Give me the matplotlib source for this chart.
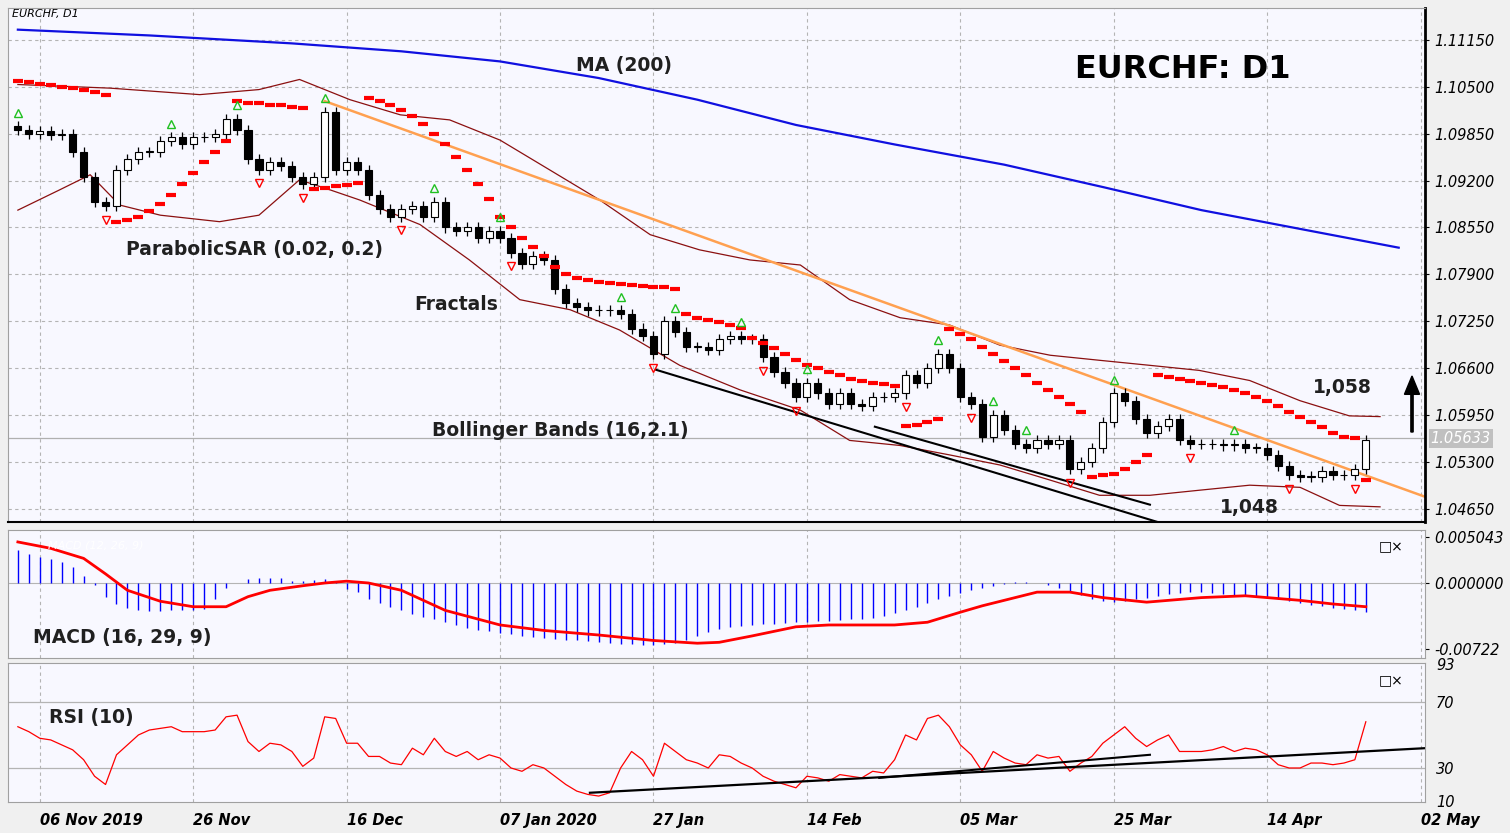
import numpy as np
import matplotlib
matplotlib.use("Agg")
import matplotlib.pyplot as plt

closes = [1.0990,1.0985,1.0988,1.0983,1.0985,1.0960,1.0925,1.0890,1.0885,1.0935,
1.0950,1.0960,1.0960,1.0975,1.0980,1.0970,1.0980,1.0980,1.0985,1.1005,
1.0990,1.0950,1.0935,1.0945,1.0940,1.0925,1.0915,1.0925,1.1015,1.0935,
1.0945,1.0935,1.0900,1.0880,1.0870,1.0880,1.0885,1.0870,1.0890,1.0855,
1.0850,1.0855,1.0840,1.0850,1.0840,1.0820,1.0805,1.0815,1.0810,1.0770,
1.0750,1.0745,1.0740,1.0740,1.0740,1.0735,1.0715,1.0705,1.0680,1.0725,
1.0710,1.0690,1.0690,1.0685,1.0700,1.0705,1.0700,1.0700,1.0675,1.0655,
1.0640,1.0620,1.0640,1.0625,1.0610,1.0625,1.0610,1.0608,1.0620,1.0620,
1.0625,1.0650,1.0640,1.0660,1.0680,1.0660,1.0620,1.0610,1.0565,1.0595,
1.0575,1.0555,1.0550,1.0560,1.0555,1.0560,1.0520,1.0530,1.0550,1.0585,
1.0625,1.0615,1.0590,1.0570,1.0580,1.0590,1.0560,1.0555,1.0555,1.0555,
1.0553,1.0555,1.0550,1.0550,1.0540,1.0525,1.0512,1.0510,1.0510,1.0518,
1.0512,1.0512,1.0520,1.0560]
first_open = 1.0995

sar = [1.1058,1.1056,1.1054,1.1052,1.1050,1.1048,1.1045,1.1042,1.1038,
1.0862,1.0866,1.0870,1.0878,1.0888,1.0900,1.0915,1.0930,1.0945,1.0960,1.0975,
1.1030,1.1028,1.1027,1.1025,1.1024,1.1022,1.1020,
1.0908,1.0910,1.0912,1.0914,1.0916,
1.1035,1.1030,1.1025,1.1018,1.1010,1.0998,1.0985,1.0970,1.0952,1.0935,1.0915,1.0895,1.0870,
1.0855,1.0840,1.0828,1.0815,
1.0800,1.0790,1.0785,1.0782,1.0780,1.0778,1.0776,1.0775,1.0774,1.0773,1.0772,1.0770,
1.0735,1.0730,1.0727,1.0724,1.0720,1.0716,
1.0702,1.0695,1.0688,1.0680,1.0672,1.0665,1.0660,1.0655,1.0650,1.0645,1.0642,1.0640,1.0638,1.0636,
1.0580,1.0582,1.0586,1.0590,
1.0715,1.0708,1.0700,1.0690,1.0680,1.0670,1.0660,1.0650,1.0640,1.0630,1.0620,1.0610,1.0600,
1.0510,1.0512,1.0514,1.0520,1.0530,1.0540,
1.0650,1.0648,1.0645,1.0642,1.0640,1.0637,1.0634,1.0630,1.0625,1.0620,1.0615,1.0608,1.0600,
1.0592,1.0585,1.0578,1.0570,1.0565,1.0563,
1.0505]

fract_up = [0,14,20,28,38,44,55,60,66,72,84,89,92,100,111]
fract_dn = [8,22,26,35,45,58,68,71,81,87,96,107,116,122]

ma_idx = [0,12,25,35,44,53,62,71,80,90,99,108,117,126]
ma_val = [1.1129,1.1121,1.1110,1.1099,1.1085,1.1062,1.1032,1.0997,1.0970,1.0942,1.0911,1.0879,1.0853,1.0827]

bbu_idx = [0,8.4,16.6,22,25.7,30.3,34.9,39.4,44,48.5,53.1,57.7,62.2,66.8,71.4,75.9,80.5,85,89.6,94.2,98.7,103.3,107.8,112.4,117,121.5,124.3]
bbu_val = [1.1053,1.1048,1.1039,1.1046,1.1060,1.1032,1.1011,1.1004,1.0976,1.0935,1.0893,1.0845,1.0824,1.0810,1.0803,1.0755,1.0730,1.0720,1.0692,1.0678,1.0671,1.0664,1.0657,1.0643,1.0615,1.0594,1.0593]
bbl_idx = [0,3.8,6.6,9.3,13,18.4,22,25.7,28.5,31.2,36.7,41.2,45.8,50.4,54.9,60.4,65.9,71.4,75.9,80.5,85,89.6,94.2,98.7,103.3,107.8,112.4,117,120.6,124.3]
bbl_val = [1.0879,1.0907,1.0928,1.0886,1.0872,1.0863,1.0872,1.0921,1.0907,1.0893,1.0859,1.0810,1.0755,1.0741,1.0713,1.0664,1.0630,1.0602,1.0560,1.0553,1.0540,1.0526,1.0505,1.0484,1.0484,1.0491,1.0498,1.0495,1.0470,1.0468]

macd_hist = [0.0036,0.0032,0.0029,0.0026,0.0023,0.0018,0.0008,-0.0002,
-0.0015,-0.0023,-0.0027,-0.0030,-0.0031,-0.0031,-0.0030,-0.0030,-0.0030,-0.0028,-0.0018,-0.0006,0.0000,0.0004,0.0005,0.0005,0.0005,0.0002,0.0002,0.0003,0.0004,0.0002,-0.0007,-0.0010,-0.0017,
-0.0022,-0.0026,-0.0030,-0.0034,-0.0037,-0.0040,-0.0043,-0.0046,-0.0049,-0.0051,-0.0053,-0.0055,-0.0056,-0.0058,-0.0059,-0.0060,-0.0061,-0.0062,-0.0063,-0.0064,-0.0065,-0.0066,-0.0067,-0.0067,-0.0068,-0.0068,-0.0067,-0.0066,-0.0062,-0.0058,
-0.0054,-0.0050,-0.0048,-0.0047,-0.0046,-0.0045,-0.0045,-0.0044,-0.0043,-0.0043,-0.0042,-0.0042,-0.0041,-0.0040,-0.0039,-0.0038,-0.0036,-0.0033,-0.0030,-0.0026,-0.0022,-0.0018,-0.0014,-0.0011,-0.0008,-0.0005,-0.0003,-0.0001,
0.0001,0.0001,0.0000,-0.0002,-0.0005,-0.0009,-0.0013,-0.0017,-0.0020,-0.0021,-0.0020,-0.0018,-0.0016,-0.0014,-0.0012,-0.0011,-0.0010,-0.0010,-0.0011,-0.0012,-0.0013,-0.0014,-0.0015,-0.0016,-0.0018,-0.0020,-0.0022,-0.0024,-0.0025,-0.0027,-0.0028,-0.0030,-0.0032]
sig_idx = [0,3,6,8,10,13,16,19,21,23,26,28,30,32,35,39,44,48,53,58,62,64,67,71,74,76,80,83,86,88,90,93,96,99,103,108,112,117,120,123]
sig_val = [0.0045,0.0038,0.0027,0.0010,-0.0008,-0.0020,-0.0026,-0.0026,-0.0015,-0.0008,-0.0003,0.0000,0.0002,0.0000,-0.0008,-0.0030,-0.0046,-0.0052,-0.0057,-0.0063,-0.0066,-0.0065,-0.0058,-0.0048,-0.0046,-0.0046,-0.0046,-0.0043,-0.0032,-0.0025,-0.0019,-0.0010,-0.0010,-0.0016,-0.0021,-0.0016,-0.0014,-0.0019,-0.0023,-0.0026]

rsi = [55,52,48,47,44,41,35,25,20,38,44,50,53,54,55,52,52,52,53,61,62,46,40,45,44,40,31,36,61,60,45,45,37,37,33,32,
42,38,48,40,37,40,35,38,36,30,28,32,30,25,20,16,14,13,15,30,40,35,25,45,40,35,33,30,38,37,33,30,25,22,20,18,25,24,22,26,25,24,28,27,35,50,47,60,62,55,44,38,28,40,36,33,32,38,36,37,28,33,37,45,50,55,48,43,47,50,40,40,40,41,43,40,42,41,38,32,30,30,33,33,32,33,35,58]

tick_idx = [2,16,30,44,58,72,86,100,114,128]
tick_lab = ["06 Nov 2019","26 Nov","16 Dec","07 Jan 2020","27 Jan","14 Feb","05 Mar","25 Mar","14 Apr","02 May"]
price_ticks = [1.11150,1.10500,1.09850,1.09200,1.08550,1.07900,1.07250,1.06600,1.05950,1.05300,1.04650]
last_price = 1.05633

W, H = 1510, 833
BG = "#f8f8ff"
fig = plt.figure(figsize=(W/100, H/100), dpi=100, facecolor="#f0f0f0")
def ax_at(l, t, r, b):
    return fig.add_axes([l/W, 1-b/H, (r-l)/W, (b-t)/H], facecolor=BG)
ax = ax_at(8, 8, 1425, 522)
axm = ax_at(8, 530, 1425, 658)
axr = ax_at(8, 663, 1425, 802)
XL = (-0.9, 128.4)
n = len(closes)
x = np.arange(n)
opens = [first_open] + closes[:-1]

for a in (ax, axm, axr):
    a.set_xlim(*XL)
    a.tick_params(left=False, labelleft=False, bottom=False, labelbottom=False, right=True, labelright=True, length=3, labelsize=10.5)
    for t in tick_idx:
        a.axvline(t, color="#b4b4b4", ls=(0, (3, 3)), lw=0.8, zorder=0)
    for s in a.spines.values():
        s.set_color("#a0a0a0")
ax.spines["right"].set_color("black"); ax.spines["right"].set_linewidth(2)
ax.spines["bottom"].set_color("black"); ax.spines["bottom"].set_linewidth(1.5)

# main
ax.set_ylim(1.04470, 1.1159)
ax.set_yticks(price_ticks)
ax.set_yticklabels([f"{p:.5f}" for p in price_ticks], fontstyle="italic")
for p in price_ticks:
    ax.axhline(p, color="#b4b4b4", ls=(0, (3, 3)), lw=0.8, zorder=0)
ax.axhline(last_price, color="#b0b0b0", lw=0.9, zorder=0)
ax.plot(ma_idx, ma_val, color="#1010e0", lw=1.6)
ax.plot(bbu_idx, bbu_val, color="#8b1010", lw=0.9)
ax.plot(bbl_idx, bbl_val, color="#8b1010", lw=0.9)
ax.plot([28, 128.4], [1.1030, 1.0482], color="#ffa050", lw=1.8)
ax.plot([58.2, 104], [1.0658, 1.0447], color="black", lw=1.5)
ax.plot([78.2, 103.3], [1.0579, 1.0471], color="black", lw=1.5)
pad = 0.0007
for i in range(n):
    o, c = opens[i], closes[i]
    hi, lo = max(o, c) + pad, min(o, c) - pad
    ax.vlines(i, lo, hi, color="black", lw=0.9, zorder=3)
    h = max(abs(c - o), 0.00004)
    ax.bar(i, h, bottom=min(o, c), width=0.65, color="white" if c >= o else "black",
           edgecolor="black", lw=0.8, zorder=4)
ax.scatter(x, sar, marker="_", s=45, color="red", linewidths=3, zorder=5)
for i in fract_up:
    ax.plot(i, max(opens[i], closes[i]) + pad + 0.0012, marker="^", ms=6, mfc="none", mec="#20c020", zorder=5)
for i in fract_dn:
    ax.plot(i, min(opens[i], closes[i]) - pad - 0.0012, marker="v", ms=6, mfc="none", mec="red", zorder=5)

# MACD
axm.set_ylim(-0.00822, 0.00581)
axm.set_yticks([0.005043, 0.0, -0.00722])
axm.set_yticklabels(["0.005043", "0.000000", "-0.00722"], fontstyle="italic")
axm.axhline(0, color="#b4b4b4", lw=0.8, zorder=0)
axm.vlines(x, 0, macd_hist, color="#0000ff", lw=1.0)
axm.plot(sig_idx, sig_val, color="red", lw=2)

# RSI
axr.set_ylim(9.4, 93.6)
axr.set_yticks([93, 70, 30, 10])
axr.set_yticklabels(["93", "70", "30", "10"], fontstyle="italic")
for v in (70, 30):
    axr.axhline(v, color="#b4b4b4", lw=0.9, zorder=0)
axr.plot(np.arange(len(rsi)), rsi, color="red", lw=0.9)
axr.plot([52.2, 128.4], [15, 42], color="black", lw=1.6)
axr.plot([78.6, 103.3], [24, 38], color="black", lw=1.5)
axr.tick_params(bottom=True, labelbottom=True, length=0, labelsize=10.5, pad=8)
axr.set_xticks(tick_idx)
axr.set_xticklabels(tick_lab, fontstyle="italic", fontweight="bold", ha="left")
for a in (axm, axr):
    a.text(0.985, 0.93, "□×", transform=a.transAxes, ha="right", va="top", fontsize=10)

def ft(px, py, s, **kw):
    fig.text(px/W, 1-py/H, s, **kw)
ft(12, 14, "EURCHF, D1", fontsize=8, fontstyle="italic", va="center")
ft(48, 545, "MACD (12, 26, 9)", fontsize=8, fontstyle="italic", color="white", va="center")
ft(1183, 70, "EURCHF: D1", fontsize=23, fontweight="bold", ha="center", va="center")
lab = dict(fontsize=13.5, fontweight="bold", ha="center", va="center", color="#202020")
ft(624, 66, "MA (200)", **lab)
ft(255, 249, "ParabolicSAR (0.02, 0.2)", **lab)
ft(456, 304, "Fractals", **lab)
ft(560, 430, "Bollinger Bands (16,2.1)", **lab)
ft(1342, 388, "1,058", **lab)
ft(1249, 508, "1,048", **lab)
ft(122, 638, "MACD (16, 29, 9)", **lab)
ft(91, 717, "RSI (10)", **lab)
fig.patches.append(matplotlib.patches.FancyArrow(1412/W, 1-432/H, 0, 56/H, width=0.0015, head_width=0.010,
                   head_length=0.022, length_includes_head=True, color="black", transform=fig.transFigure))
ax.text(1.004, (last_price-1.04470)/(1.1159-1.04470), f"{last_price:.5f}", transform=ax.transAxes,
        fontsize=10.5, fontstyle="italic", color="white", va="center",
        bbox=dict(facecolor="#c0c0c0", edgecolor="none", pad=1.5))
fig.savefig("out.png", dpi=100, facecolor=fig.get_facecolor())
